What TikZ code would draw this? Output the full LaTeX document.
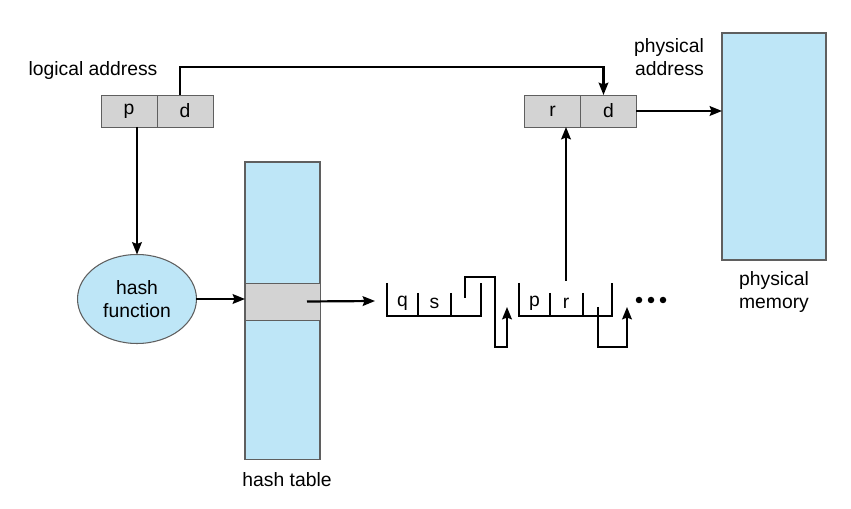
\documentclass[tikz,border=0pt]{standalone}
\usepackage{fontspec}
\setmainfont{Liberation Sans}
\usepackage{tikz}
\usetikzlibrary{arrows.meta,shapes.geometric,positioning}

\definecolor{memblue}{RGB}{190,230,247}
\definecolor{cellgray}{RGB}{211,211,211}
\definecolor{edgegray}{RGB}{95,95,95}

\begin{document}
\begin{tikzpicture}[x=0.02cm,y=-0.02cm,->,>={Stealth[length=7pt,width=5.5pt,inset=1pt]},line width=1.25pt,
  font=\fontsize{11}{13}\selectfont,
  cell/.style={draw=edgegray,line width=0.5pt,fill=cellgray,minimum width=1.12cm,
    minimum height=0.64cm,inner sep=0pt,outer sep=0pt},
  mem/.style={draw=edgegray,line width=0.6pt,fill=memblue,inner sep=0pt,outer sep=0pt,align=center},
  lcell/.style={minimum width=0.62cm,minimum height=0.84cm,inner sep=0pt},
  lbl/.style={align=center,inner sep=0pt}]
		\useasboundingbox (0,0) rectangle (851,509);

		% logical and physical address
		\node[cell] (lp) at (129,111) {p};
		\node[cell,right=0pt of lp] (ld) {d};
		\node[cell] (pr) at (552.5,111) {r};
		\node[cell,right=0pt of pr] (pd) {d};
		\node[lbl] (la) at (93,71) {logical address};
		\node[lbl,align=right,anchor=east] (pa) at (705,57) {physical\\address};

		% memory, hash function, hash table
		\node[mem,minimum width=2.08cm,minimum height=4.54cm] (pm) at (774,146.5) {};
		\node[lbl] (pml) at (774,292) {physical\\memory};
		\node[mem,ellipse,minimum width=2.38cm,minimum height=1.78cm] (hf) at (137,299) {hash\\function};
		\node[mem,minimum width=1.5cm,minimum height=5.96cm] (ht) at (282.5,311) {};
		\node[cell,minimum width=1.5cm,minimum height=0.74cm] (hb) at (282.5,301.5) {};
		\node[lbl] (htl) at (287,480) {hash table};

		% chain entries
		\node[lcell] (lq) at (402.5,303) {q};
		\node[lcell] (ls) at (434.5,303) {s};
		\node[lcell] (lp2) at (534.5,303) {p};
		\node[lcell] (lr) at (566,303) {r};
		\coordinate (chain) at (375,301);
		\coordinate (nx1) at (465,298);
		\coordinate (in1) at (507,307);
		\coordinate (nx2) at (598,307);
		\coordinate (in2) at (627,307);

		\draw[-] (387,283) -- (387,316) -- (481,316) -- (481,283);
		\draw[-] (418,293) -- (418,316);
		\draw[-] (451,293) -- (451,316);
		\draw[-] (519,283) -- (519,316) -- (612,316) -- (612,283);
		\draw[-] (550,293) -- (550,316);
		\draw[-] (583,293) -- (583,316);
		\fill[-] (639,300) circle (0.065cm) (651,300) circle (0.065cm) (663,300) circle (0.065cm);

		% connectors
		\draw ([xshift=-0.1cm]ld.north) -- ++(0,-28) -| ([xshift=-0.1cm]pd.north);
		\draw (pd.east) -- (pd.east -| pm.west);
		\draw (hf.north |- lp.south) -- (hf.north);
		\draw (hf.east) -- (hf.east -| ht.west);
		\draw ([xshift=0.49cm]hb.center) -- (chain);
		\draw (lr.north) -- (lr.north |- pr.south);
		\draw (nx1) -- ++(0,-21) -- ++(30,0) -- ++(0,70) -| (in1);
		\draw (nx2) -- ++(0,40) -| (in2);

		\end{tikzpicture}
\end{document}
